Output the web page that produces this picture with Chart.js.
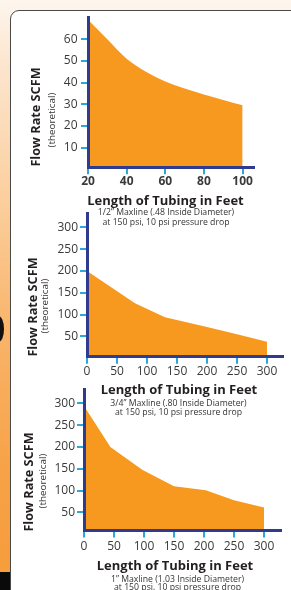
<!DOCTYPE html>
<html>
<head>
<meta charset="utf-8">
<script src="https://cdn.jsdelivr.net/npm/chart.js@4.4.1/dist/chart.umd.min.js"></script>
<style>
  html, body { margin:0; padding:0; }
  body {
    width:291px; height:590px; overflow:hidden; position:relative;
    font-family:"Open Sans", sans-serif;
    background: linear-gradient(to bottom, #fdf6ee 0px, #fce6d0 60px, #fbcf9e 200px, #f9b46a 330px, #f7a247 470px, #f69d3c 572px, #0a0a0a 572px, #0a0a0a 590px);
  }
  .card {
    position:absolute; left:10px; top:10px; width:300px; height:600px;
    background:#fff; border:1.5px solid #4a4a4a; border-radius:9px; box-sizing:border-box;
  }
  .blob { position:absolute; left:-7px; top:316px; width:11px; height:26px; border-radius:50%; background:#111; }
  canvas { position:absolute; left:0; }
  .t { position:absolute; white-space:nowrap; color:#231f20; z-index:5; transform:translate(-50%,-50%); line-height:1; }
  .rot { transform:translate(-50%,-50%) rotate(-90deg); }
  .yt { font-weight:700; font-size:12.7px; }
  .ys { font-weight:400; font-size:9.8px; color:#333; }
  .xt { font-weight:700; font-size:13px; }
  .cap { font-weight:400; font-size:8.7px; color:#333; }
</style>
</head>
<body>
<div class="card"></div>
<div class="blob"></div>

<canvas id="c1" width="291" height="190" style="top:0px"></canvas>
<canvas id="c2" width="291" height="190" style="top:195px"></canvas>
<canvas id="c3" width="291" height="175" style="top:380px"></canvas>

<!-- chart 1 texts -->
<div class="t rot yt" style="left:35px;top:117px">Flow Rate SCFM</div>
<div class="t rot ys" style="left:52px;top:120px">(theoretical)</div>
<div class="t xt" style="left:165.5px;top:200px">Length of Tubing in Feet</div>
<div class="t cap" style="left:166px;top:211.7px">1/2” Maxline (.48 Inside Diameter)</div>
<div class="t cap" style="left:166px;top:221.7px">at 150 psi, 10 psi pressure drop</div>

<!-- chart 2 texts -->
<div class="t rot yt" style="left:31.7px;top:306.7px">Flow Rate SCFM</div>
<div class="t rot ys" style="left:45px;top:306px">(theoretical)</div>
<div class="t xt" style="left:179px;top:389.3px">Length of Tubing in Feet</div>
<div class="t cap" style="left:178.5px;top:403.3px">3/4” Maxline (.80 Inside Diameter)</div>
<div class="t cap" style="left:178.5px;top:412.3px">at 150 psi, 10 psi pressure drop</div>

<!-- chart 3 texts -->
<div class="t rot yt" style="left:28.3px;top:482px">Flow Rate SCFM</div>
<div class="t rot ys" style="left:42.7px;top:481px">(theoretical)</div>
<div class="t xt" style="left:175px;top:565px">Length of Tubing in Feet</div>
<div class="t cap" style="left:177.5px;top:579px">1” Maxline (1.03 Inside Diameter)</div>
<div class="t cap" style="left:177.5px;top:587.3px">at 150 psi, 10 psi pressure drop</div>

<script>
// ---- data ----
const lengths1 = [20, 30, 40, 50, 60, 80, 100];
const flow1    = [69, 60, 51, 45, 40.5, 34.5, 29.5];
const xTicks1  = [20, 40, 60, 80, 100];
const yTicks1  = [10, 20, 30, 40, 50, 60];

const lengths2 = [0, 80, 130, 200, 250, 300];
const flow2    = [200, 126, 94, 72, 55, 38];
const xTicks2  = [0, 50, 100, 150, 200, 250, 300];
const yTicks2  = [50, 100, 150, 200, 250, 300];

const lengths3 = [0, 44, 97, 150, 203, 250, 300];
const flow3    = [294, 200, 148, 110, 101, 78, 61];
const xTicks3  = [0, 50, 100, 150, 200, 250, 300];
const yTicks3  = [50, 100, 150, 200, 250, 300];

const NAVY = '#2f3b8e', TICKBLUE = '#27a8e0', ORANGE = '#f7991f', LABEL = '#3a3a3a';

function makeChart(id, xs, ys, xTicks, yTicks, o) {
  const pts = xs.map((x, i) => ({x: x, y: ys[i]}));
  return new Chart(document.getElementById(id), {
    type: 'line',
    data: { datasets: [{
      data: pts, fill: 'origin', backgroundColor: ORANGE, borderWidth: 0,
      borderColor: ORANGE, pointRadius: 0, tension: 0,
      cubicInterpolationMode: o.smooth ? 'monotone' : 'default'
    }]},
    options: {
      responsive: false, animation: false, devicePixelRatio: 1,
      layout: { padding: { left: 0, top: o.padTop, right: o.padRight, bottom: 0 } },
      plugins: { legend: { display: false }, tooltip: { enabled: false } },
      scales: {
        x: {
          type: 'linear', min: o.xMin, max: o.xMax,
          afterBuildTicks: s => { s.ticks = xTicks.map(v => ({value: v})); },
          afterFit: s => { s.height = o.xH; },
          grid: { display: true, drawOnChartArea: false, drawTicks: true, tickLength: 7, color: TICKBLUE, lineWidth: 2 },
          border: { display: true, color: NAVY, width: 3, z: 2 },
          ticks: { color: LABEL, padding: o.xPad, maxRotation: 0, autoSkip: false,
                   font: { family: 'Open Sans', size: 12, weight: o.xBold ? 'bold' : 'normal' } }
        },
        y: {
          type: 'linear', min: o.yMin, max: o.yMax,
          afterBuildTicks: s => { s.ticks = yTicks.map(v => ({value: v})); },
          afterFit: s => { s.width = o.yW; },
          grid: { display: true, drawOnChartArea: false, drawTicks: true, tickLength: 7, color: TICKBLUE, lineWidth: 2 },
          border: { display: true, color: NAVY, width: 3, z: 2 },
          ticks: { color: LABEL, padding: o.yPad, autoSkip: false,
                   font: { family: 'Open Sans', size: 12 } }
        }
      }
    }
  });
}

makeChart('c1', lengths1, flow1, xTicks1, yTicks1, {
  smooth: true, padTop: 17, padRight: 37, xH: 190 - 167.3, yW: 88,
  xMin: 20, xMax: 105.9, yMin: 0.9, yMax: 70.3, xPad: 0, yPad: 3.5, xBold: true
});
makeChart('c2', lengths2, flow2, xTicks2, yTicks2, {
  smooth: false, padTop: 18, padRight: 8, xH: 190 - 161.7, yW: 87,
  xMin: 0, xMax: 326.7, yMin: 3.7, yMax: 333, xPad: 1, yPad: 2, xBold: false
});
makeChart('c3', lengths3, flow3, xTicks3, yTicks3, {
  smooth: false, padTop: 9, padRight: 10, xH: 175 - 150.5, yW: 84,
  xMin: 0, xMax: 328.3, yMin: 8.3, yMax: 332.8, xPad: 2, yPad: 2, xBold: false
});
</script>
</body>
</html>
